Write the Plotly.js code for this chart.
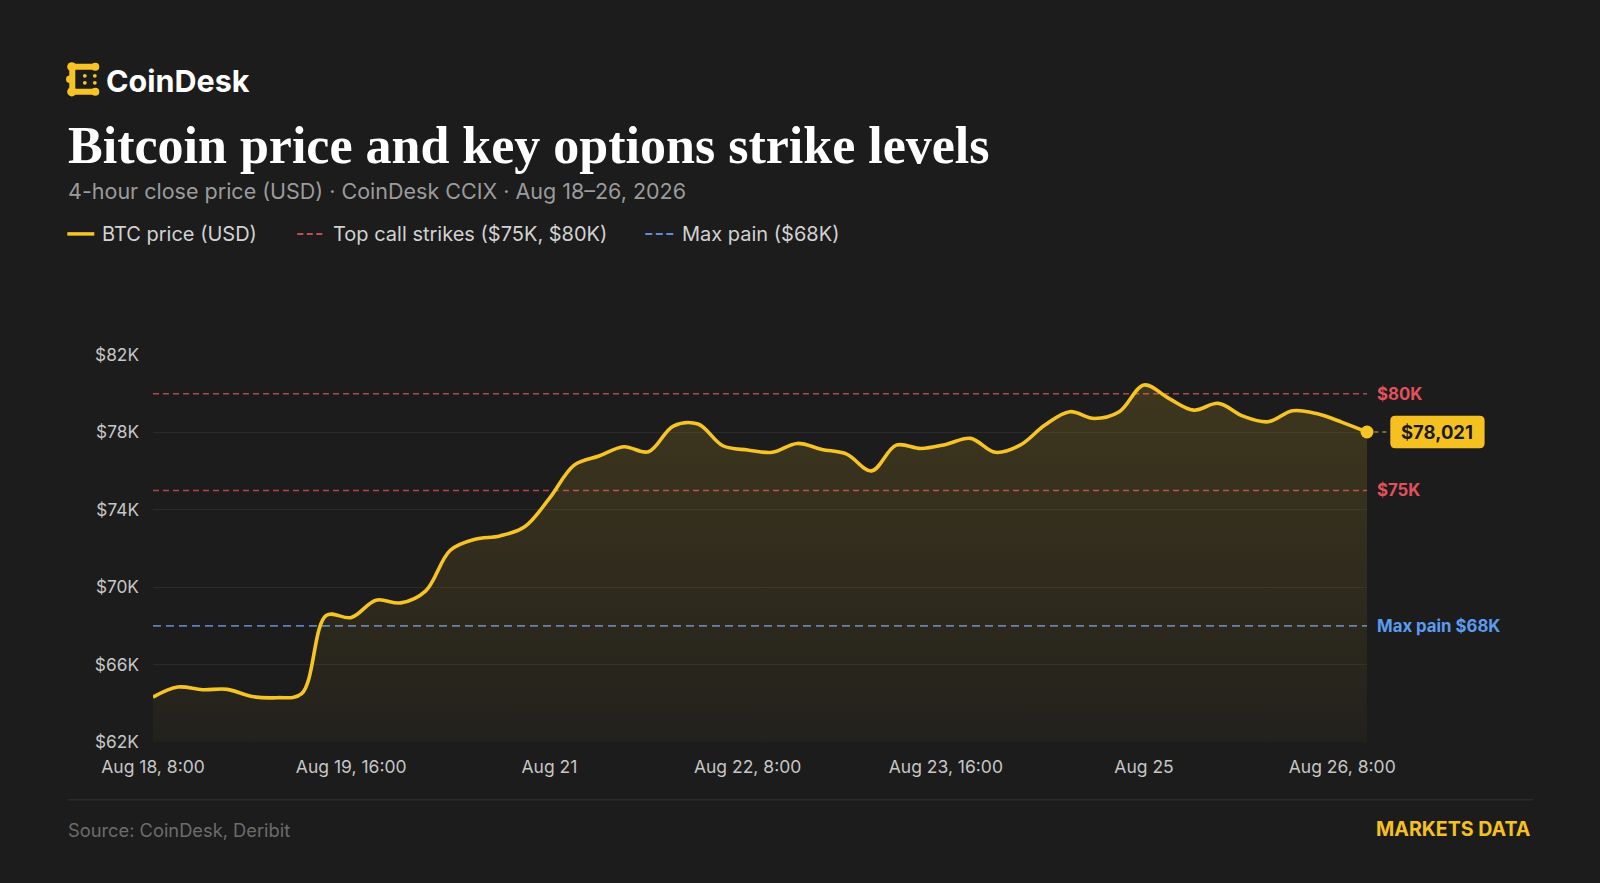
<!DOCTYPE html>
<html>
<head>
<meta charset="utf-8">
<script src="https://cdn.plot.ly/plotly-3.0.1.min.js"></script>
<style>
html,body{margin:0;padding:0;background:#1c1c1c;}
#chart{width:1600px;height:883px;}
</style>
</head>
<body>
<div id="chart"></div>
<script>
// ---------------- DATA ----------------
const times = [
  '2026-08-18 08:00','2026-08-18 12:00','2026-08-18 16:00','2026-08-18 20:00',
  '2026-08-19 00:00','2026-08-19 04:00','2026-08-19 08:00','2026-08-19 12:00','2026-08-19 16:00','2026-08-19 20:00',
  '2026-08-20 00:00','2026-08-20 04:00','2026-08-20 08:00','2026-08-20 12:00','2026-08-20 16:00','2026-08-20 20:00',
  '2026-08-21 00:00','2026-08-21 04:00','2026-08-21 08:00','2026-08-21 12:00','2026-08-21 16:00','2026-08-21 20:00',
  '2026-08-22 00:00','2026-08-22 04:00','2026-08-22 08:00','2026-08-22 12:00','2026-08-22 16:00','2026-08-22 20:00',
  '2026-08-23 00:00','2026-08-23 04:00','2026-08-23 08:00','2026-08-23 12:00','2026-08-23 16:00','2026-08-23 20:00',
  '2026-08-24 00:00','2026-08-24 04:00','2026-08-24 08:00','2026-08-24 12:00','2026-08-24 16:00','2026-08-24 20:00',
  '2026-08-25 00:00','2026-08-25 04:00','2026-08-25 08:00','2026-08-25 12:00','2026-08-25 16:00','2026-08-25 20:00',
  '2026-08-26 00:00','2026-08-26 04:00','2026-08-26 08:00','2026-08-26 12:00'
];
const btcPrice = [
  64320, 64840, 64700, 64720,
  64350, 64290, 64500, 68550, 68430, 69330,
  69190, 69800, 71910, 72480, 72650, 73120,
  74590, 76310, 76780, 77260, 77000, 78330,
  78430, 77310, 77090, 76970, 77430, 77120,
  76880, 76010, 77340, 77170, 77380, 77690,
  76970, 77340, 78380, 79070, 78720, 79070,
  80450, 79760, 79150, 79500, 78840, 78550,
  79120, 78960, 78520, 78021
];
const callStrikes = [75000, 80000];
const maxPain = 68000;
const tickTimes = ['2026-08-18 08:00','2026-08-19 16:00','2026-08-21 00:00','2026-08-22 08:00','2026-08-23 16:00','2026-08-25 00:00','2026-08-26 08:00'];
const tickLabels = ['Aug 18, 8:00','Aug 19, 16:00','Aug 21','Aug 22, 8:00','Aug 23, 16:00','Aug 25','Aug 26, 8:00'];
const yTicks = [62000, 66000, 70000, 74000, 78000, 82000];
const yTickLabels = ['$62K','$66K','$70K','$74K','$78K','$82K'];
const yRange = [62000, 82000];

// ---------------- STYLE / GEOMETRY ----------------
const W = 1600, H = 883;
const M = {l: 152.7, r: 233.3, t: 355, b: 141.3};
const plotW = W - M.l - M.r, plotH = H - M.t - M.b;
const px2x = px => (px - M.l) / plotW;
const py2y = py => (H - M.b - py) / plotH;
const v2py = v => H - M.b - (v - yRange[0]) / (yRange[1] - yRange[0]) * plotH;

const YEL = '#f6c425';
const SANS = 'Inter, "Noto Sans", sans-serif';
const kLabel = v => '$' + (v / 1000) + 'K';

const t0 = times[0], tN = times[times.length - 1];
const lastPrice = btcPrice[btcPrice.length - 1];
const lastTime = times[times.length - 1];

// ---------------- TRACES ----------------
const strikeX = [], strikeY = [];
callStrikes.forEach((s, i) => {
  if (i) { strikeX.push(null); strikeY.push(null); }
  strikeX.push(t0, tN); strikeY.push(s, s);
});

const traces = [
  {
    x: strikeX, y: strikeY, type: 'scatter', mode: 'lines', name: 'Top call strikes ($75K, $80K)',
    line: {color: 'rgba(214,82,90,0.8)', width: 1.5, dash: '6px,4px'}, hoverinfo: 'skip', showlegend: false
  },
  {
    x: [t0, tN], y: [maxPain, maxPain], type: 'scatter', mode: 'lines', name: 'Max pain ($68K)',
    line: {color: 'rgba(105,145,205,0.85)', width: 1.8, dash: '8px,5px'}, hoverinfo: 'skip', showlegend: false
  },
  {
    x: times, y: btcPrice, type: 'scatter', mode: 'lines', name: 'BTC price (USD)',
    line: {color: YEL, width: 3.6, shape: 'spline', smoothing: 1},
    fill: 'tozeroy',
    fillgradient: {
      type: 'vertical', start: 62000, stop: 80500,
      colorscale: [[0, 'rgba(246,196,37,0.03)'], [1, 'rgba(246,196,37,0.16)']]
    },
    hoverinfo: 'skip', showlegend: false
  },
  {
    x: [lastTime], y: [lastPrice], type: 'scatter', mode: 'markers', cliponaxis: false,
    marker: {color: YEL, size: 13}, hoverinfo: 'skip', showlegend: false
  }
];

// ---------------- DECORATION ----------------
const shapes = [];
const annotations = [];
function hline(x0, x1, py, color, width, dash) {
  shapes.push({type: 'line', xref: 'paper', yref: 'paper', x0: px2x(x0), x1: px2x(x1), y0: py2y(py), y1: py2y(py),
    line: {color: color, width: width, dash: dash || 'solid'}});
}
function circ(cx, cy, r, color) {
  shapes.push({type: 'circle', xref: 'paper', yref: 'paper', x0: px2x(cx - r), x1: px2x(cx + r), y0: py2y(cy + r), y1: py2y(cy - r),
    fillcolor: color, line: {width: 0}});
}
function text(t, px, py, size, color, opts) {
  opts = opts || {};
  annotations.push({text: t, xref: 'paper', yref: 'paper', x: px2x(px), y: py2y(py),
    xanchor: opts.anchor || 'left', yanchor: 'middle', showarrow: false,
    font: {family: opts.family || SANS, size: size, color: color, weight: opts.weight || 400}});
}

// logo icon
const P = (x, y) => px2x(x) + ',' + py2y(y);
shapes.push({type: 'path', xref: 'paper', yref: 'paper',
  path: 'M' + P(95, 67) + ' L' + P(72, 67) + ' L' + P(72, 92) + ' L' + P(95, 92),
  line: {color: YEL, width: 6}});
circ(71.5, 67, 4.6, YEL); circ(71.5, 92, 4.6, YEL); circ(95, 67, 4, YEL); circ(95, 92, 4, YEL);
circ(69.5, 79.5, 3.8, YEL);
circ(84.5, 76, 1.9, YEL); circ(84.5, 83, 1.9, YEL); circ(94.5, 76, 1.9, YEL); circ(94.5, 83, 1.9, YEL);
text('CoinDesk', 104, 80.5, 30.5, '#ffffff', {weight: 700});

// title and subtitle
text('Bitcoin price and key options strike levels', 66, 146, 52, '#ffffff', {family: '"Liberation Serif", "DejaVu Serif", serif', weight: 700});
text('4-hour close price (USD) · CoinDesk CCIX · Aug 18–26, 2026', 66, 191, 21.5, '#9b9b9b');

// legend
hline(67, 94, 234, YEL, 3.5);
text('BTC price (USD)', 100, 234, 20, '#d2d2d2');
hline(297, 322, 234, 'rgba(214,82,90,0.9)', 2, '6px,3.5px');
text('Top call strikes ($75K, $80K)', 331, 234, 20, '#d2d2d2');
hline(645, 673, 234, 'rgba(105,145,220,0.95)', 2, '7px,3.5px');
text('Max pain ($68K)', 680, 234, 20, '#d2d2d2');

// right-side reference labels
callStrikes.forEach(s => text(kLabel(s), 1375, v2py(s), 16.8, '#e0525c', {weight: 700}));
text('Max pain ' + kLabel(maxPain), 1375, v2py(maxPain), 16.8, '#5b9bf0', {weight: 700});

// last price badge
const lpY = v2py(lastPrice);
hline(1374, 1390, lpY, 'rgba(190,160,70,0.75)', 1.5, '4px,4px');
const bx0 = 1390, bx1 = 1484.3, by0 = lpY - 16.3, by1 = lpY + 16.3, rr = 5;
shapes.push({type: 'path', xref: 'paper', yref: 'paper', fillcolor: '#f5c121', line: {width: 0},
  path: 'M' + P(bx0 + rr, by0) + ' L' + P(bx1 - rr, by0) + ' Q' + P(bx1, by0) + ' ' + P(bx1, by0 + rr) +
        ' L' + P(bx1, by1 - rr) + ' Q' + P(bx1, by1) + ' ' + P(bx1 - rr, by1) +
        ' L' + P(bx0 + rr, by1) + ' Q' + P(bx0, by1) + ' ' + P(bx0, by1 - rr) +
        ' L' + P(bx0, by0 + rr) + ' Q' + P(bx0, by0) + ' ' + P(bx0 + rr, by0) + ' Z'});
text('$' + lastPrice.toLocaleString('en-US'), (bx0 + bx1) / 2, lpY, 18.5, '#1a1a1a', {weight: 700, anchor: 'center'});

// footer
hline(67, 1533, 799.5, '#343434', 1);
text('Source: CoinDesk, Deribit', 66, 830, 18.3, '#6c6c6c');
text('MARKETS DATA', 1533, 829, 19.6, '#f5c121', {weight: 700, anchor: 'right'});

// ---------------- LAYOUT ----------------
const layout = {
  width: W, height: H,
  paper_bgcolor: '#1c1c1c', plot_bgcolor: '#1c1c1c',
  margin: {l: M.l, r: M.r, t: M.t, b: M.b, pad: 0},
  showlegend: false,
  font: {family: SANS, color: '#c6c6c6'},
  xaxis: {
    type: 'date', range: [t0, tN],
    tickmode: 'array', tickvals: tickTimes, ticktext: tickLabels,
    showgrid: false, zeroline: false, showline: false, ticks: '',
    tickfont: {family: SANS, size: 17.5, color: '#c6c6c6'},
    ticklabelstandoff: 12, fixedrange: true
  },
  yaxis: {
    range: yRange, tickmode: 'array', tickvals: yTicks, ticktext: yTickLabels,
    showgrid: true, gridcolor: '#2a2a2a', gridwidth: 1,
    zeroline: false, showline: false, ticks: '',
    tickfont: {family: SANS, size: 17.3, color: '#c6c6c6'},
    ticklabelstandoff: 13, fixedrange: true
  },
  shapes: shapes,
  annotations: annotations
};

Plotly.newPlot('chart', traces, layout, {displayModeBar: false, staticPlot: true});
</script>
</body>
</html>
